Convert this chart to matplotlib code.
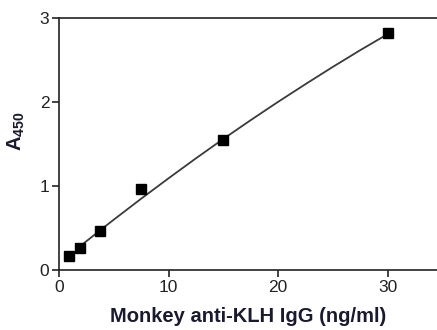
import matplotlib
matplotlib.use("Agg")
import matplotlib.pyplot as plt

plt.rcParams["font.family"] = ["Liberation Sans", "DejaVu Sans"]
plt.rcParams["mathtext.fontset"] = "custom"
plt.rcParams["mathtext.rm"] = "Liberation Sans"
plt.rcParams["mathtext.bf"] = "Liberation Sans:bold"

# measured standards
conc = [0.9375, 1.875, 3.75, 7.5, 15, 30]
a450 = [0.17, 0.26, 0.46, 0.96, 1.55, 2.82]

# fitted standard curve
fit_x = [1.875, 3.75, 5, 7.5, 10, 12.5, 15, 17.5, 20, 22.5, 25, 27.5, 30]
fit_y = [0.277, 0.472, 0.599, 0.849, 1.092, 1.330, 1.561, 1.785, 2.003,
         2.214, 2.420, 2.619, 2.810]

x_ticks = [0, 10, 20, 30]
y_ticks = [0, 1, 2, 3]

fig = plt.figure(figsize=(4.37, 3.30), dpi=100)
ax = fig.add_axes([0.135, 0.182, 0.865, 0.763])

ax.plot(fit_x, fit_y, color="#3a3a3a", linewidth=1.3, zorder=2)
ax.plot(conc, a450, linestyle="none", marker="s", markersize=6.5,
        color="black", zorder=3)

ax.set_xlim(0, 34.5)
ax.set_ylim(0, 3)
ax.set_xticks(x_ticks)
ax.set_yticks(y_ticks)

for side in ("left", "bottom", "top"):
    ax.spines[side].set_linewidth(1.2)
    ax.spines[side].set_color("#222")
ax.spines["right"].set_visible(False)

ax.tick_params(direction="out", length=5, width=1.2, color="#222",
               labelsize=12.5, labelcolor="#222", pad=2)

ax.set_xlabel("Monkey anti-KLH IgG (ng/ml)", fontsize=14.5, fontweight="bold",
              color="#1a1a2e", labelpad=9)
ax.set_ylabel(r"$\mathbf{A_{450}}$", fontsize=14.5, color="#1a1a2e")
ax.yaxis.set_label_coords(-0.085, 0.55)

fig.savefig("out.png", dpi=100)
